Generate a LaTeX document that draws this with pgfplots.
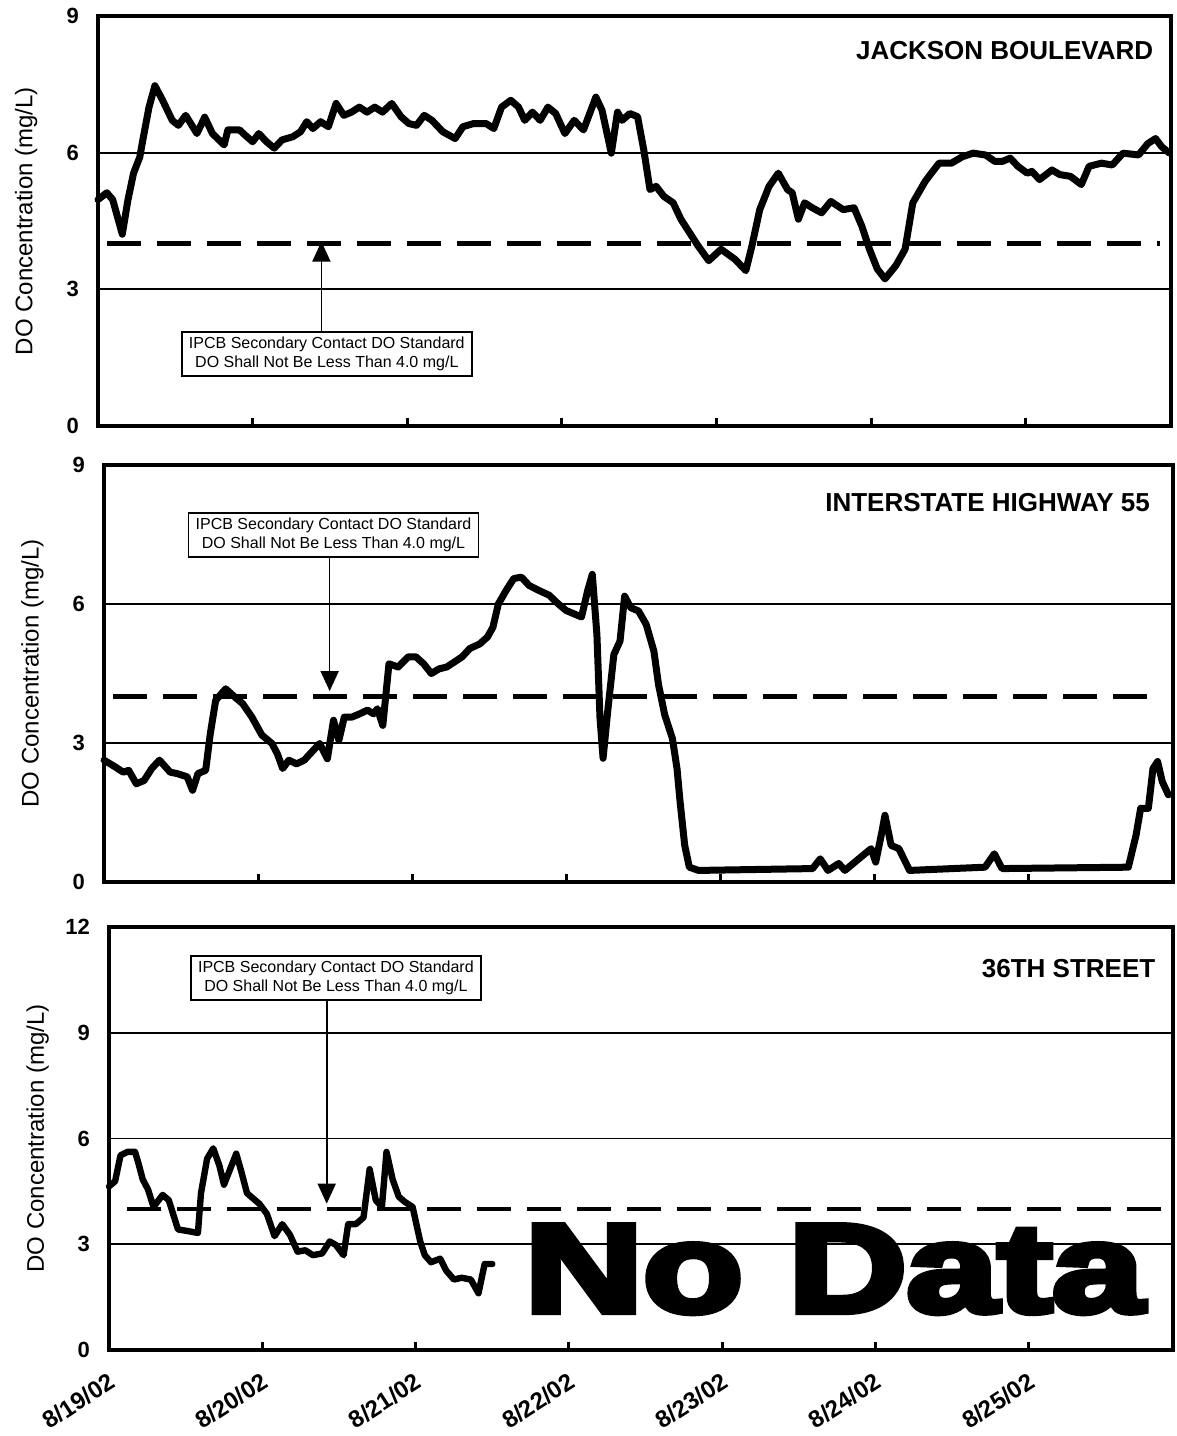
\documentclass[border=0pt]{standalone}
\usepackage{pgfplots}
\pgfplotsset{compat=1.18}
\usepackage{fontspec}
\setmainfont{Liberation Sans}
\newfontfamily\nodatafont[BoldFeatures={FakeBold=5}]{Liberation Sans}
\usetikzlibrary{arrows.meta}

\pgfplotsset{
  doplot/.style={
    scale only axis, xmin=0, xmax=6.94, ymin=0, clip=false,
    axis line style={line width=1.8pt},
    xtick={1,...,6}, xticklabels={},
    tick align=inside, tick pos=left,
    major tick length=4pt,
    xtick style={line width=1.5pt, black},
    ytick style={draw=none},
    ymajorgrids, grid style={line width=0.9pt, black},
    /pgf/number format/assume math mode=true,
    yticklabel style={font=\fontsize{11}{13}\selectfont\bfseries, xshift=-6pt},
    ylabel={DO Concentration (mg/L)},
    ylabel style={font=\fontsize{12}{14}\selectfont, at={(axis description cs:-0.067,0.5)}, anchor=center},
  },
}
\tikzset{
  doline/.style={line width=3.5pt, black, line join=round, line cap=round},
  stdline/.style={line width=2.3pt, black, dash pattern=on 17pt off 8pt},
  stdarrow/.style={line width=0.8pt, black, -{Triangle[width=9pt,length=10pt]}},
  stdbox/.style={draw, fill=white, line width=0.8pt, font=\fontsize{8}{9.5}\selectfont, align=center, inner sep=2.5pt, minimum width=145pt},
  stn/.style={anchor=north east, font=\fontsize{13}{15}\selectfont\bfseries},
}

\begin{document}
\begin{tikzpicture}
\useasboundingbox (0,0) rectangle (588.5pt,-718pt);

% ---------------- Panel 1: Jackson Boulevard ----------------
\begin{axis}[doplot, at={(49pt,-213pt)}, anchor=south west,
  width=536.5pt, height=205pt, ymax=9, ytick={0,3,6,9}]
\addplot[stdline] coordinates {(0.06,4) (6.87,4)};
\addplot[doline] coordinates {
(0.0,4.97) (0.057,5.12) (0.095,4.97) (0.157,4.21) (0.194,4.97) (0.23,5.55) (0.27,5.9) (0.29,6.28) (0.33,7.0) (0.368,7.47) (0.418,7.15) (0.48,6.71) (0.52,6.6) (0.567,6.82) (0.64,6.42) (0.69,6.78) (0.74,6.42) (0.816,6.17) (0.84,6.5) (0.915,6.5) (0.95,6.39) (1.0,6.24) (1.04,6.42) (1.09,6.24) (1.14,6.1) (1.19,6.28) (1.26,6.35) (1.31,6.46) (1.35,6.68) (1.39,6.53) (1.44,6.68) (1.49,6.57) (1.54,7.08) (1.59,6.82) (1.64,6.89) (1.69,7.0) (1.74,6.89) (1.79,7.0) (1.84,6.89) (1.90,7.08) (1.96,6.79) (2.01,6.64) (2.06,6.6) (2.11,6.82) (2.16,6.71) (2.23,6.46) (2.31,6.31) (2.36,6.57) (2.43,6.64) (2.51,6.64) (2.56,6.53) (2.61,7.0) (2.67,7.15) (2.72,7.0) (2.76,6.71) (2.81,6.89) (2.86,6.71) (2.91,7.0) (2.96,6.86) (3.02,6.42) (3.08,6.71) (3.14,6.5) (3.22,7.22) (3.26,6.93) (3.32,5.99) (3.36,6.89) (3.39,6.71) (3.44,6.86) (3.49,6.79) (3.53,6.06) (3.57,5.19) (3.61,5.26) (3.66,5.04) (3.72,4.9) (3.77,4.54) (3.84,4.17) (3.88,3.96) (3.95,3.63) (4.03,3.88) (4.12,3.66) (4.19,3.41) (4.23,3.96) (4.28,4.75) (4.34,5.26) (4.40,5.55) (4.46,5.19) (4.49,5.12) (4.53,4.54) (4.57,4.9) (4.62,4.79) (4.68,4.68) (4.74,4.93) (4.82,4.75) (4.89,4.79) (4.94,4.39) (4.99,3.88) (5.04,3.45) (5.09,3.23) (5.16,3.52) (5.22,3.88) (5.27,4.9) (5.35,5.37) (5.39,5.55) (5.44,5.77) (5.52,5.77) (5.59,5.91) (5.66,5.99) (5.74,5.95) (5.80,5.81) (5.85,5.81) (5.90,5.88) (5.95,5.7) (6.01,5.55) (6.04,5.59) (6.09,5.41) (6.17,5.62) (6.22,5.52) (6.29,5.48) (6.36,5.3) (6.41,5.7) (6.49,5.77) (6.56,5.73) (6.63,5.99) (6.73,5.95) (6.79,6.2) (6.84,6.31) (6.88,6.13) (6.93,5.99)};
\draw[stdarrow] (axis cs:1.445,2.0) -- (axis cs:1.445,4.05);
\node[stdbox] at (axis cs:1.48,1.58) {IPCB Secondary Contact DO Standard\\DO Shall Not Be Less Than 4.0 mg/L};
\node[stn] at (axis description cs:0.99,0.955) {JACKSON BOULEVARD};
\end{axis}

% ---------------- Panel 2: Interstate Highway 55 ----------------
\begin{axis}[doplot, at={(52pt,-441pt)}, anchor=south west,
  width=534.5pt, height=208.5pt, ymax=9, ytick={0,3,6,9}]
\addplot[stdline] coordinates {(0.06,4) (6.87,4)};
\addplot[doline] coordinates {
(0.0,2.63) (0.075,2.48) (0.125,2.37) (0.16,2.41) (0.21,2.12) (0.26,2.19) (0.31,2.45) (0.36,2.63) (0.43,2.37) (0.475,2.34) (0.54,2.27) (0.575,1.98) (0.61,2.34) (0.66,2.41) (0.69,3.2) (0.725,3.92) (0.79,4.17) (0.85,3.99) (0.9,3.85) (0.96,3.56) (1.025,3.17) (1.09,2.99) (1.125,2.77) (1.16,2.45) (1.2,2.63) (1.25,2.55) (1.3,2.63) (1.35,2.81) (1.4,2.99) (1.45,2.66) (1.49,3.49) (1.525,3.06) (1.56,3.56) (1.61,3.56) (1.66,3.63) (1.71,3.71) (1.75,3.63) (1.775,3.74) (1.81,3.38) (1.85,4.71) (1.91,4.64) (1.975,4.86) (2.025,4.86) (2.075,4.71) (2.125,4.5) (2.175,4.6) (2.225,4.64) (2.275,4.75) (2.325,4.86) (2.375,5.04) (2.44,5.14) (2.49,5.29) (2.525,5.5) (2.56,6.0) (2.61,6.29) (2.66,6.55) (2.71,6.58) (2.76,6.4) (2.825,6.29) (2.89,6.19) (2.95,6.0) (3.0,5.86) (3.05,5.79) (3.1,5.72) (3.14,6.29) (3.17,6.64) (3.2,5.34) (3.22,3.54) (3.24,2.67) (3.27,3.68) (3.31,4.91) (3.35,5.2) (3.38,6.17) (3.42,5.92) (3.47,5.85) (3.52,5.56) (3.57,4.98) (3.60,4.26) (3.64,3.61) (3.69,3.1) (3.72,2.45) (3.74,1.73) (3.77,0.79) (3.80,0.32) (3.86,0.25) (4.6,0.29) (4.65,0.5) (4.7,0.25) (4.77,0.4) (4.81,0.25) (4.9,0.5) (4.98,0.72) (5.01,0.43) (5.05,1.08) (5.07,1.44) (5.11,0.79) (5.16,0.72) (5.23,0.25) (5.72,0.32) (5.78,0.61) (5.83,0.29) (6.65,0.32) (6.70,1.01) (6.73,1.59) (6.78,1.59) (6.81,2.45) (6.84,2.6) (6.87,2.17) (6.91,1.88)};
\draw[stdarrow] (axis cs:1.465,7.1) -- (axis cs:1.465,4.12);
\node[stdbox] at (axis cs:1.49,7.49) {IPCB Secondary Contact DO Standard\\DO Shall Not Be Less Than 4.0 mg/L};
\node[stn] at (axis description cs:0.985,0.95) {INTERSTATE HIGHWAY 55};
\end{axis}

% ---------------- Panel 3: 36th Street ----------------
\begin{axis}[doplot, at={(54.5pt,-675pt)}, anchor=south west,
  width=532pt, height=211.5pt, ymax=12, ytick={0,3,6,9,12},
  xtick={0,...,6},
  xticklabels={8/19/02,8/20/02,8/21/02,8/22/02,8/23/02,8/24/02,8/25/02},
  xticklabel style={font=\fontsize{12}{14}\selectfont\bfseries, xshift=0pt, yshift=-6pt, rotate=33, anchor=north east}]
\addplot[stdline] coordinates {(0.12,4) (6.87,4)};
\addplot[doline, line width=3.2pt] coordinates {
(0.0,4.64) (0.04,4.79) (0.075,5.52) (0.12,5.62) (0.17,5.62) (0.19,5.33) (0.22,4.84) (0.255,4.55) (0.29,4.06) (0.35,4.4) (0.39,4.25) (0.45,3.42) (0.52,3.37) (0.58,3.32) (0.6,4.45) (0.64,5.43) (0.68,5.72) (0.72,5.23) (0.75,4.69) (0.79,5.13) (0.83,5.57) (0.865,5.03) (0.9,4.45) (0.94,4.3) (0.98,4.15) (1.03,3.86) (1.08,3.23) (1.13,3.57) (1.18,3.27) (1.23,2.79) (1.28,2.83) (1.33,2.69) (1.39,2.74) (1.44,3.08) (1.48,2.98) (1.53,2.69) (1.56,3.57) (1.61,3.57) (1.66,3.76) (1.70,5.13) (1.74,4.25) (1.78,4.06) (1.81,5.62) (1.85,4.84) (1.89,4.35) (1.93,4.2) (1.98,4.06) (2.03,3.08) (2.06,2.69) (2.10,2.49) (2.16,2.59) (2.2,2.25) (2.25,2.0) (2.30,2.05) (2.36,2.0) (2.41,1.61) (2.45,2.44) (2.50,2.44)};
\draw[stdarrow] (axis cs:1.42,10.0) -- (axis cs:1.42,4.15);
\node[stdbox] at (axis cs:1.48,10.56) {IPCB Secondary Contact DO Standard\\DO Shall Not Be Less Than 4.0 mg/L};
\node[stn] at (axis description cs:0.99,0.94) {36TH STREET};
\node[anchor=base, xscale=1.3, font=\nodatafont\bfseries\fontsize{63}{63}\selectfont] at (axis cs:4.73,1.08) {No Data};
\end{axis}
\end{tikzpicture}
\end{document}
